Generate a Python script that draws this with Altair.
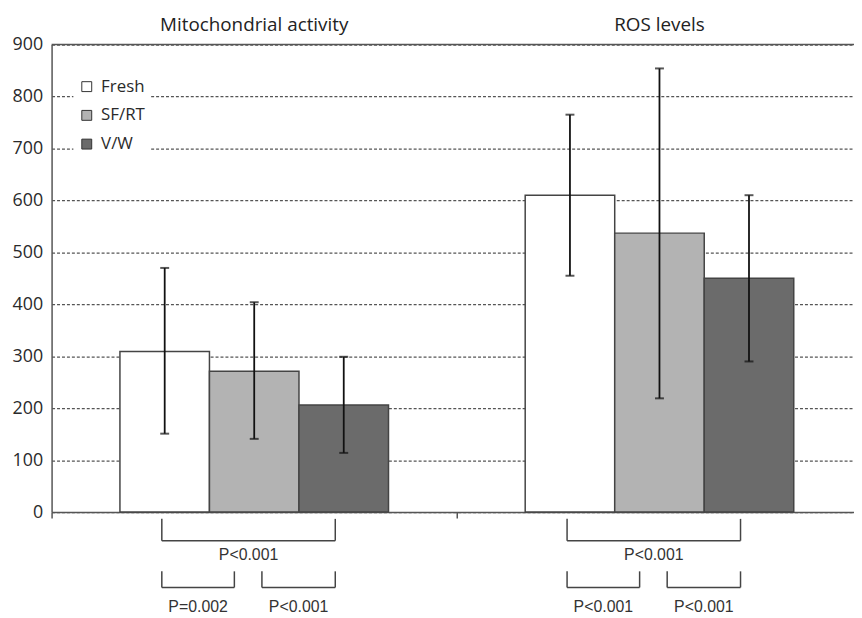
import altair as alt
import pandas as pd

# ---------------- data ----------------
measures = ["Mitochondrial activity", "ROS levels"]
groups = ["Fresh", "SF/RT", "V/W"]
mito_mean = [309, 271, 206]
mito_low = [151, 141, 114]
mito_high = [470, 404, 299]
ros_mean = [610, 537, 450]
ros_low = [455, 219, 290]
ros_high = [765, 854, 610]
colors = ["#ffffff", "#b3b3b3", "#6b6b6b"]

# comparisons: (measure, from group, to group, label, level)
comparisons = [
    ("Mitochondrial activity", "Fresh", "V/W", "P<0.001", 0),
    ("Mitochondrial activity", "Fresh", "SF/RT", "P=0.002", 1),
    ("Mitochondrial activity", "SF/RT", "V/W", "P<0.001", 1),
    ("ROS levels", "Fresh", "V/W", "P<0.001", 0),
    ("ROS levels", "Fresh", "SF/RT", "P<0.001", 1),
    ("ROS levels", "SF/RT", "V/W", "P<0.001", 1),
]

# ---------------- layout ----------------
W, H = 810, 472
X_MAX = 1.98          # categories are 1 unit wide; right end of plot is cropped
BAR_W = 0.2209        # bar width in category units
BRACKET_EDGES = {("Fresh", "V/W"): (0.272, 0.700),
                 ("Fresh", "SF/RT"): (0.272, 0.451),
                 ("SF/RT", "V/W"): (0.519, 0.700)}
LEVEL_Y = {0: (-13, -55, -82), 1: (-114, -145, -183)}   # top, bottom, text (y units)
TITLE_Y = 926

rows = []
for mi, (m, mean, lo, hi) in enumerate(zip(measures, [mito_mean, ros_mean],
                                           [mito_low, ros_low], [mito_high, ros_high])):
    for gi, g in enumerate(groups):
        rows.append(dict(measure=m, group=g, mi=mi, gi=gi,
                         value=mean[gi], low=lo[gi], high=hi[gi]))
df = pd.DataFrame(rows)

base = alt.Chart(df).transform_calculate(
    xc=f"datum.mi + 0.5 + (datum.gi - 1) * {BAR_W}",
    xl=f"datum.mi + 0.5 + (datum.gi - 1.5) * {BAR_W}",
    xr=f"datum.mi + 0.5 + (datum.gi - 0.5) * {BAR_W}",
)

xscale = alt.Scale(domain=[0, X_MAX], nice=False, zero=False, padding=0)
yscale = alt.Scale(domain=[0, 900], nice=False, padding=0)

x_axis = alt.Axis(labels=False, values=[0, 1], tickSize=6, tickColor="#555",
                  tickWidth=1.5, domainColor="#555", domainWidth=1.5, grid=False, title=None)
y_axis = alt.Axis(values=list(range(0, 1000, 100)), grid=True, gridDash=[3, 2],
                  gridColor="#555", gridWidth=1.2, ticks=False, tickSize=0, labelPadding=9,
                  labelFont="Open Sans", labelFontSize=18, labelColor="#2a2a2a",
                  domainColor="#555", domainWidth=1.5, title=None)

bars = base.mark_bar(stroke="#444", strokeWidth=1.5).encode(
    x=alt.X("xl:Q", scale=xscale, axis=x_axis),
    x2="xr:Q",
    y=alt.Y("value:Q", scale=yscale, axis=y_axis),
    y2=alt.datum(0),
    color=alt.Color("group:N", scale=alt.Scale(domain=groups, range=colors),
                    legend=alt.Legend(orient="none", legendX=22, legendY=29, title=None,
                                      fillColor="white", padding=5, symbolType="square",
                                      symbolSize=100, symbolStrokeColor="#333",
                                      symbolStrokeWidth=1, labelFont="Open Sans",
                                      labelFontSize=17, labelColor="#2a2a2a",
                                      rowPadding=11, labelOffset=6)),
)

err = base.mark_rule(color="#111", strokeWidth=1.8).encode(
    x="xc:Q", y="low:Q", y2="high:Q")
cap_lo = base.mark_tick(orient="horizontal", size=9, thickness=2, color="#111").encode(
    x="xc:Q", y="low:Q")
cap_hi = base.mark_tick(orient="horizontal", size=9, thickness=2, color="#111").encode(
    x="xc:Q", y="high:Q")

top_line = alt.Chart(pd.DataFrame({"v": [900]})).mark_rule(
    color="#555", strokeWidth=1.5).encode(y="v:Q")

titles = alt.Chart(pd.DataFrame({"measure": measures, "mi": [0, 1]})).transform_calculate(
    xc="datum.mi + 0.5", yv=str(TITLE_Y)
).mark_text(font="Open Sans", fontSize=19, color="#222", baseline="alphabetic").encode(
    x="xc:Q", y="yv:Q", text="measure:N")

seg_rows, txt_rows = [], []
for m, g1, g2, lab, lev in comparisons:
    mi = measures.index(m)
    x1, x2 = BRACKET_EDGES[(g1, g2)]
    top, bot, ty = LEVEL_Y[lev]
    seg_rows += [dict(x=mi + x1, x2=mi + x2, y=bot, y2=bot),
                 dict(x=mi + x1, x2=mi + x1, y=top, y2=bot),
                 dict(x=mi + x2, x2=mi + x2, y=top, y2=bot)]
    txt_rows.append(dict(x=mi + (x1 + x2) / 2, y=ty, label=lab))

brackets = alt.Chart(pd.DataFrame(seg_rows)).mark_rule(
    color="#444", strokeWidth=1.5).encode(x="x:Q", x2="x2:Q", y="y:Q", y2="y2:Q")
ptext = alt.Chart(pd.DataFrame(txt_rows)).mark_text(
    font="Liberation Sans", fontSize=16, color="#333", baseline="middle").encode(
    x="x:Q", y="y:Q", text="label:N")

chart = alt.layer(bars, err, cap_lo, cap_hi, top_line, titles, brackets, ptext).properties(
    width=W, height=H,
    autosize=alt.AutoSizeParams(type="none"),
    padding={"left": 44, "top": 34, "right": 0, "bottom": 104},
).configure_view(stroke=None)

chart.save("out.html", embed_options={"renderer": "svg", "actions": False})
